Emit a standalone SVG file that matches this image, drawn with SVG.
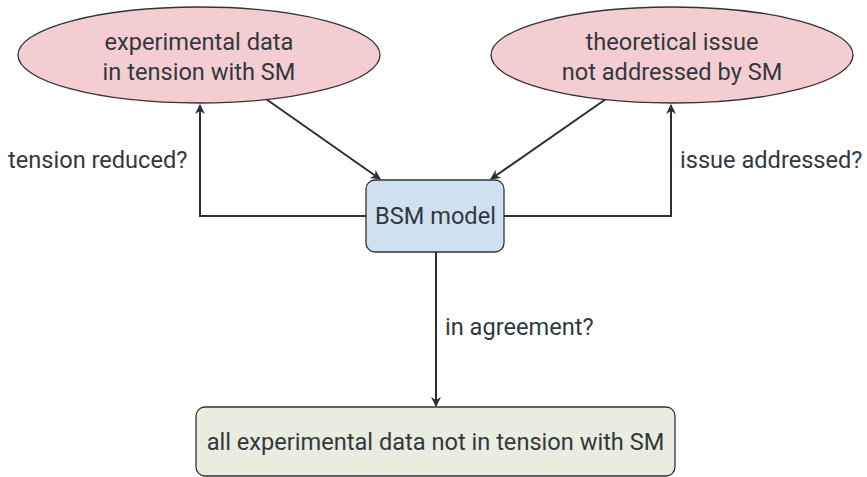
<svg xmlns="http://www.w3.org/2000/svg" width="867" height="477" viewBox="0 0 867 477">
<defs>
<style>
text{font-family:Roboto,"Liberation Sans",sans-serif;font-size:23.6px;fill:#33383f;text-anchor:middle}
.lbl{text-anchor:start}
.ell{fill:#f4cdd3;stroke:#333;stroke-width:1.3}
.con{fill:none;stroke:#2b2f36;stroke-width:2}
</style>
<marker id="arr" markerWidth="10" markerHeight="10" viewBox="0 0 10 10" refX="9" refY="5" orient="auto" markerUnits="userSpaceOnUse">
<path d="M0,0 L10,5 L0,10 L3,5 Z" fill="#2b2f36"/>
</marker>
</defs>
<rect width="867" height="477" fill="#fff"/>
<g id="connectors">
<path class="con" d="M366,216 H200 V105" marker-end="url(#arr)"/>
<path class="con" d="M504,216 H671 V105" marker-end="url(#arr)"/>
<path class="con" d="M266,99 L380,179" marker-end="url(#arr)"/>
<path class="con" d="M606,99 L491,179" marker-end="url(#arr)"/>
<path class="con" d="M436,252 V406" marker-end="url(#arr)"/>
<text class="lbl" x="8" y="168">tension reduced?</text>
<text class="lbl" x="680" y="168">issue addressed?</text>
<text class="lbl" x="445" y="335">in agreement?</text>
</g>
<g id="exp">
<ellipse class="ell" cx="199" cy="55" rx="181" ry="48"/>
<text x="199" y="50">experimental data</text>
<text x="199" y="80">in tension with SM</text>
</g>
<g id="theo">
<ellipse class="ell" cx="672" cy="55" rx="181" ry="48"/>
<text x="672" y="50">theoretical issue</text>
<text x="672" y="80">not addressed by SM</text>
</g>
<g id="bsm">
<rect x="366" y="180" width="138" height="72" rx="9" fill="#cfe0f1" stroke="#333" stroke-width="1.3"/>
<text x="435.5" y="224">BSM model</text>
</g>
<g id="all">
<rect x="196" y="407" width="479" height="69" rx="9" fill="#e9ecdf" stroke="#333" stroke-width="1.3"/>
<text x="435.5" y="450">all experimental data not in tension with SM</text>
</g>
</svg>
